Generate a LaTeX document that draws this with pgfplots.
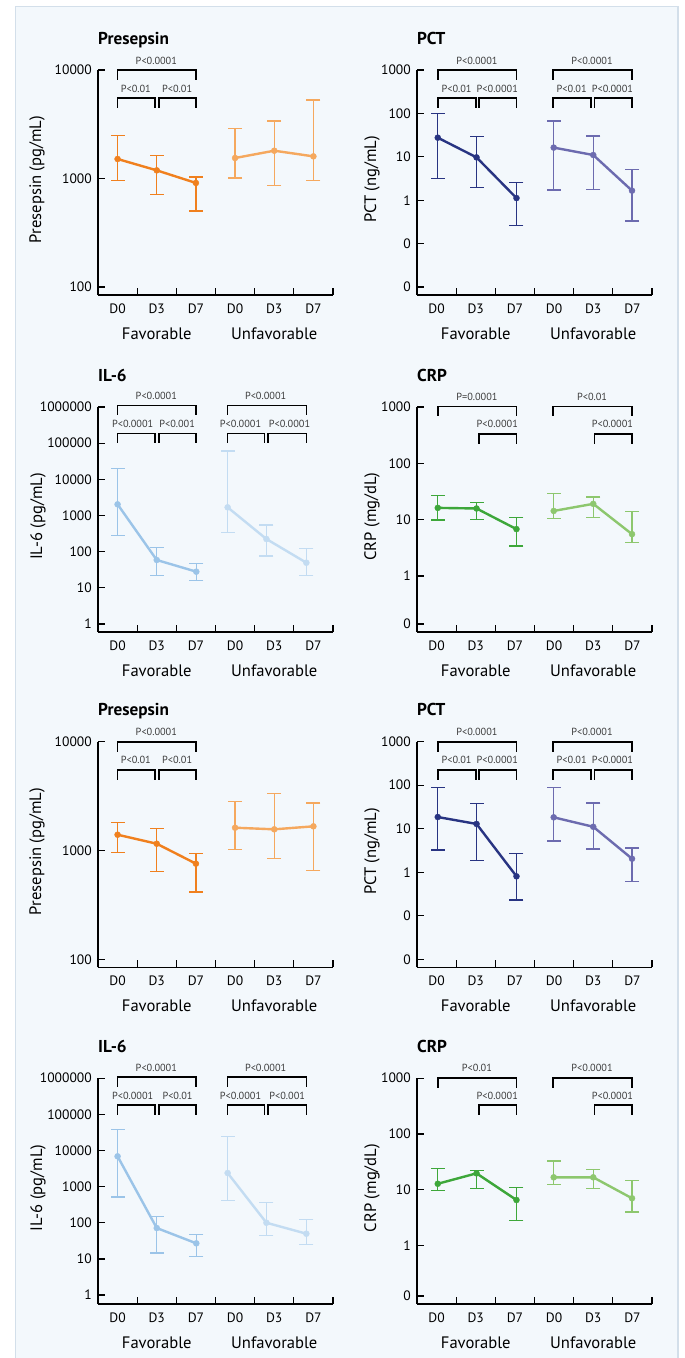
\documentclass[border=0pt]{standalone}
\usepackage{fontspec}
\setmainfont{PT Sans}
\usepackage{pgfplots}
\pgfplotsset{compat=1.18}

\definecolor{bg}{HTML}{F3F8FC}
\definecolor{bd}{HTML}{D3DFEA}
\definecolor{preF}{HTML}{F0801E}
\definecolor{preU}{HTML}{F5A85E}
\definecolor{pctF}{HTML}{283482}
\definecolor{pctU}{HTML}{6C6BAF}
\definecolor{ilF}{HTML}{9BC4E8}
\definecolor{ilU}{HTML}{C3DCF2}
\definecolor{crpF}{HTML}{3DA73A}
\definecolor{crpU}{HTML}{8DC76E}
\definecolor{ptxt}{HTML}{3C3C3C}

\newcommand{\tickfont}{\fontsize{13.6}{14}\selectfont}
\newcommand{\labfont}{\fontsize{16.6}{17}\selectfont}
\newcommand{\titfont}{\bfseries\fontsize{17.2}{18}\selectfont}
\newcommand{\pfont}{\fontsize{10.3}{11}\selectfont}

% begin a panel: height, L, bottom, extra options
\newcommand{\panel}[4]{%
  \begin{axis}[scale only axis, width=235pt, height=#1pt,
    at={(#2pt,-#3pt)}, anchor=south west,
    ymode=log, xmin=0, xmax=6,
    axis x line*=bottom, axis y line*=left,
    axis line style={line width=1.3pt, black},
    tick align=inside,
    xtick={1,2,3,4,5,6}, xticklabels={},
    yminorticks=false,
    tick style={line width=1.3pt, black},
    major tick length=7pt,
    yticklabel style={font=\tickfont, anchor=east, inner sep=0pt, xshift=-6pt},
    clip=false, #4]}

% main line through the group means
\newcommand{\mline}[2]{%
  \addplot[color=#1, line width=2.4pt, mark=*, mark size=3pt,
    mark options={fill=#1, draw=#1, line width=0.4pt, solid}] coordinates {#2};}
% error bar: colour, x, low, high
\newcommand{\ebar}[4]{%
  \addplot[color=#1, line width=1.3pt, mark=-, mark size=7pt,
    mark options={line width=1.3pt, solid}] coordinates {(#2,#3) (#2,#4)};}

% bracket: L, T, x1, x2, offset below top
\newcommand{\brk}[5]{%
  \draw[line width=1.7pt, black, line cap=rect, line join=miter]
    ({#1+#3*39.1667},{-(#2+#5+9)}) -- ({#1+#3*39.1667},{-(#2+#5)}) --
    ({#1+#4*39.1667},{-(#2+#5)}) -- ({#1+#4*39.1667},{-(#2+#5+9)});}
% p label: L, T, xc, offset of bar, text
\newcommand{\plab}[5]{%
  \node[font=\pfont, text=ptxt, inner sep=0pt] at ({#1+#3*39.1667},{-(#2+#4-9.5)}) {#5};}
% decorations: L, T, H, title, ylabel, ylabel dx
\newcommand{\deco}[6]{%
  \node[anchor=base west, font=\titfont, inner sep=0pt] at (#1,{-(#2-26)}) {#4};
  \node[rotate=90, font=\labfont, inner sep=0pt] at ({#1+#6},{-(#2+#3/2-3)}) {#5};
  \node[font=\tickfont, inner sep=0pt] at ({#1+0.5*39.1667},{-(#2+#3+13.5)}) {D0};
  \node[font=\tickfont, inner sep=0pt] at ({#1+1.5*39.1667},{-(#2+#3+13.5)}) {D3};
  \node[font=\tickfont, inner sep=0pt] at ({#1+2.5*39.1667},{-(#2+#3+13.5)}) {D7};
  \node[font=\tickfont, inner sep=0pt] at ({#1+3.5*39.1667},{-(#2+#3+13.5)}) {D0};
  \node[font=\tickfont, inner sep=0pt] at ({#1+4.5*39.1667},{-(#2+#3+13.5)}) {D3};
  \node[font=\tickfont, inner sep=0pt] at ({#1+5.5*39.1667},{-(#2+#3+13.5)}) {D7};
  \node[font=\labfont, inner sep=0pt] at ({#1+1.5*39.1667},{-(#2+#3+38.5)}) {Favorable};
  \node[font=\labfont, inner sep=0pt] at ({#1+4.5*39.1667},{-(#2+#3+38.5)}) {Unfavorable};}

\begin{document}
\begin{tikzpicture}[x=1pt,y=1pt]
\useasboundingbox (0,0) rectangle (685,-1358);
\fill[white] (0,0) rectangle (685,-1358);
\filldraw[fill=bg, draw=bd, line width=1.5pt] (15.5,-6.5) rectangle (678,-1375);

% ===== Row 1: Presepsin =====
\panel{225}{98}{295}{ymin=84.4, ymax=10000, ytick={100,1000,10000}, yticklabels={100,1000,10000}}
\ebar{preF}{0.5}{955}{2482}
\ebar{preF}{1.5}{709}{1622}
\ebar{preF}{2.5}{501}{1033}
\mline{preF}{(0.5,1513) (1.5,1189) (2.5,910)}
\ebar{preU}{3.5}{1011}{2878}
\ebar{preU}{4.5}{866}{3388}
\ebar{preU}{5.5}{955}{5292}
\mline{preU}{(3.5,1545) (4.5,1804) (5.5,1600)}
\end{axis}
\deco{98}{70}{225}{Presepsin}{Presepsin (pg/mL)}{-61}
\brk{98}{70}{0.5}{2.5}{0}
\brk{98}{70}{0.5}{1.455}{28}
\brk{98}{70}{1.55}{2.5}{28}
\plab{98}{70}{1.49}{0}{P<0.0001}
\plab{98}{70}{0.966}{28}{P<0.01}
\plab{98}{70}{2.02}{28}{P<0.01}

% ===== Row 1: PCT =====
\panel{225}{417}{295}{ymin=0.00654, ymax=1000, ytick={0.01,0.1,1,10,100,1000}, yticklabels={0,0,1,10,100,1000}}
\ebar{pctF}{0.53}{3.19}{98.6}
\ebar{pctF}{1.52}{1.98}{29.1}
\ebar{pctF}{2.54}{0.259}{2.53}
\mline{pctF}{(0.53,27.6) (1.52,9.7) (2.54,1.12)}
\ebar{pctU}{3.49}{1.72}{66.8}
\ebar{pctU}{4.5}{1.78}{30.1}
\ebar{pctU}{5.49}{0.332}{5.05}
\mline{pctU}{(3.49,16.3) (4.5,11.0) (5.49,1.66)}
\end{axis}
\deco{417}{70}{225}{PCT}{PCT (ng/mL)}{-45}
\brk{417}{70}{0.53}{2.54}{0}
\brk{417}{70}{0.53}{1.50}{28}
\brk{417}{70}{1.575}{2.54}{28}
\brk{417}{70}{3.48}{5.49}{0}
\brk{417}{70}{3.48}{4.44}{28}
\brk{417}{70}{4.53}{5.49}{28}
\plab{417}{70}{1.53}{0}{P<0.0001}
\plab{417}{70}{1.01}{28}{P<0.01}
\plab{417}{70}{2.05}{28}{P<0.0001}
\plab{417}{70}{4.47}{0}{P<0.0001}
\plab{417}{70}{3.95}{28}{P<0.01}
\plab{417}{70}{4.99}{28}{P<0.0001}

% ===== Row 2: IL-6 =====
\panel{225}{98}{632}{ymin=0.601, ymax=1000000, ytick={1,10,100,1000,10000,100000,1000000},
  yticklabels={1,10,100,1000,10000,100000,1000000}}
\ebar{ilF}{0.5}{277}{19700}
\ebar{ilF}{1.5}{22.2}{132}
\ebar{ilF}{2.51}{15.8}{47.7}
\mline{ilF}{(0.5,2037) (1.5,58.9) (2.51,28.0)}
\ebar{ilU}{3.31}{343}{60800}
\ebar{ilU}{4.3}{76}{547}
\ebar{ilU}{5.32}{21.7}{124}
\mline{ilU}{(3.31,1683) (4.3,224) (5.32,49.5)}
\end{axis}
\deco{98}{407}{225}{IL-6}{IL-6 (pg/mL)}{-60}
\brk{98}{407}{0.5}{2.51}{-1.5}
\brk{98}{407}{0.5}{1.455}{26.5}
\brk{98}{407}{1.55}{2.51}{26.5}
\brk{98}{407}{3.31}{5.32}{-1.5}
\brk{98}{407}{3.31}{4.25}{26.5}
\brk{98}{407}{4.34}{5.32}{26.5}
\plab{98}{407}{1.49}{-1.5}{P<0.0001}
\plab{98}{407}{0.885}{26.5}{P<0.0001}
\plab{98}{407}{2.02}{26.5}{P<0.001}
\plab{98}{407}{4.28}{-1.5}{P<0.0001}
\plab{98}{407}{3.64}{26.5}{P<0.0001}
\plab{98}{407}{4.89}{26.5}{P<0.0001}

% ===== Row 2: CRP =====
\panel{225}{417}{632}{ymin=0.1014, ymax=1000, ytick={0.1406,1,10,100,1000}, yticklabels={0,1,10,100,1000}}
\ebar{crpF}{0.53}{9.9}{27.2}
\ebar{crpF}{1.52}{10.07}{19.9}
\ebar{crpF}{2.54}{3.43}{10.9}
\mline{crpF}{(0.53,16.2) (1.52,15.8) (2.54,6.8)}
\ebar{crpU}{3.49}{10.6}{29.1}
\ebar{crpU}{4.5}{10.8}{25.4}
\ebar{crpU}{5.49}{3.88}{14.0}
\mline{crpU}{(3.49,14.3) (4.5,19.1) (5.49,5.53)}
\end{axis}
\deco{417}{407}{225}{CRP}{CRP (mg/dL)}{-45}
\brk{417}{407}{0.53}{2.54}{-0.5}
\brk{417}{407}{1.58}{2.54}{26.7}
\brk{417}{407}{3.48}{5.49}{-0.5}
\brk{417}{407}{4.53}{5.49}{26.7}
\plab{417}{407}{1.53}{-0.5}{P=0.0001}
\plab{417}{407}{2.05}{26.7}{P<0.0001}
\plab{417}{407}{4.47}{-0.5}{P<0.01}
\plab{417}{407}{4.99}{26.7}{P<0.0001}

% ===== Row 3: Presepsin =====
\panel{225.6}{98}{967.3}{ymin=84.4, ymax=10000, ytick={100,1000,10000}, yticklabels={100,1000,10000}}
\ebar{preF}{0.5}{962}{1816}
\ebar{preF}{1.5}{644}{1585}
\ebar{preF}{2.5}{416}{942}
\mline{preF}{(0.5,1397) (1.5,1154) (2.5,757)}
\ebar{preU}{3.5}{1017}{2833}
\ebar{preU}{4.5}{841}{3326}
\ebar{preU}{5.5}{658}{2733}
\mline{preU}{(3.5,1620) (4.5,1566) (5.5,1668)}
\end{axis}
\deco{98}{741.7}{225.6}{Presepsin}{Presepsin (pg/mL)}{-61}
\brk{98}{741.7}{0.5}{2.5}{0}
\brk{98}{741.7}{0.5}{1.455}{28}
\brk{98}{741.7}{1.55}{2.5}{28}
\plab{98}{741.7}{1.49}{0}{P<0.0001}
\plab{98}{741.7}{0.966}{28}{P<0.01}
\plab{98}{741.7}{2.02}{28}{P<0.01}

% ===== Row 3: PCT =====
\panel{225.6}{417}{967.3}{ymin=0.00655, ymax=1000, ytick={0.01,0.1,1,10,100,1000}, yticklabels={0,0,1,10,100,1000}}
\ebar{pctF}{0.53}{3.25}{87.7}
\ebar{pctF}{1.52}{1.88}{38.4}
\ebar{pctF}{2.54}{0.230}{2.72}
\mline{pctF}{(0.53,18.6) (1.52,12.9) (2.54,0.807)}
\ebar{pctU}{3.49}{5.23}{89.4}
\ebar{pctU}{4.5}{3.42}{39.0}
\ebar{pctU}{5.49}{0.618}{3.61}
\mline{pctU}{(3.49,18.3) (4.5,11.1) (5.49,2.05)}
\end{axis}
\deco{417}{741.7}{225.6}{PCT}{PCT (ng/mL)}{-45}
\brk{417}{741.7}{0.53}{2.54}{0}
\brk{417}{741.7}{0.53}{1.50}{28}
\brk{417}{741.7}{1.575}{2.54}{28}
\brk{417}{741.7}{3.48}{5.49}{0}
\brk{417}{741.7}{3.48}{4.44}{28}
\brk{417}{741.7}{4.53}{5.49}{28}
\plab{417}{741.7}{1.53}{0}{P<0.0001}
\plab{417}{741.7}{1.01}{28}{P<0.01}
\plab{417}{741.7}{2.05}{28}{P<0.0001}
\plab{417}{741.7}{4.47}{0}{P<0.0001}
\plab{417}{741.7}{3.95}{28}{P<0.01}
\plab{417}{741.7}{4.99}{28}{P<0.0001}

% ===== Row 4: IL-6 =====
\panel{225.8}{98}{1304}{ymin=0.563, ymax=1000000, ytick={1,10,100,1000,10000,100000,1000000},
  yticklabels={1,10,100,1000,10000,100000,1000000}}
\ebar{ilF}{0.5}{515}{37550}
\ebar{ilF}{1.5}{14.5}{147}
\ebar{ilF}{2.51}{11.5}{46.6}
\mline{ilF}{(0.5,6890) (1.5,71.4) (2.51,26.9)}
\ebar{ilU}{3.31}{407}{24040}
\ebar{ilU}{4.3}{44.9}{367}
\ebar{ilU}{5.32}{25.3}{121}
\mline{ilU}{(3.31,2377) (4.3,100) (5.32,49.7)}
\end{axis}
\deco{98}{1078.2}{225.8}{IL-6}{IL-6 (pg/mL)}{-60}
\brk{98}{1078.2}{0.5}{2.51}{-1}
\brk{98}{1078.2}{0.5}{1.455}{27}
\brk{98}{1078.2}{1.55}{2.51}{27}
\brk{98}{1078.2}{3.31}{5.32}{-1}
\brk{98}{1078.2}{3.31}{4.25}{27}
\brk{98}{1078.2}{4.34}{5.32}{27}
\plab{98}{1078.2}{1.49}{-1}{P<0.0001}
\plab{98}{1078.2}{0.885}{27}{P<0.0001}
\plab{98}{1078.2}{2.03}{27}{P<0.01}
\plab{98}{1078.2}{4.28}{-1}{P<0.0001}
\plab{98}{1078.2}{3.64}{27}{P<0.0001}
\plab{98}{1078.2}{4.83}{27}{P<0.001}

% ===== Row 4: CRP =====
\panel{225.8}{417}{1304}{ymin=0.0894, ymax=1000, ytick={0.124,1,10,100,1000}, yticklabels={0,1,10,100,1000}}
\ebar{crpF}{0.53}{9.6}{24.2}
\ebar{crpF}{1.52}{10.6}{21.9}
\ebar{crpF}{2.54}{2.83}{10.9}
\mline{crpF}{(0.53,12.8) (1.52,19.7) (2.54,6.55)}
\ebar{crpU}{3.49}{12.3}{32.7}
\ebar{crpU}{4.5}{10.6}{22.9}
\ebar{crpU}{5.49}{3.99}{14.5}
\mline{crpU}{(3.49,16.7) (4.5,16.7) (5.49,7.03)}
\end{axis}
\deco{417}{1078.2}{225.8}{CRP}{CRP (mg/dL)}{-45}
\brk{417}{1078.2}{0.53}{2.54}{-0.5}
\brk{417}{1078.2}{1.58}{2.54}{27}
\brk{417}{1078.2}{3.48}{5.49}{-0.5}
\brk{417}{1078.2}{4.53}{5.49}{27}
\plab{417}{1078.2}{1.53}{-0.5}{P<0.01}
\plab{417}{1078.2}{2.05}{27}{P<0.0001}
\plab{417}{1078.2}{4.47}{-0.5}{P<0.0001}
\plab{417}{1078.2}{4.99}{27}{P<0.0001}
\end{tikzpicture}
\end{document}
